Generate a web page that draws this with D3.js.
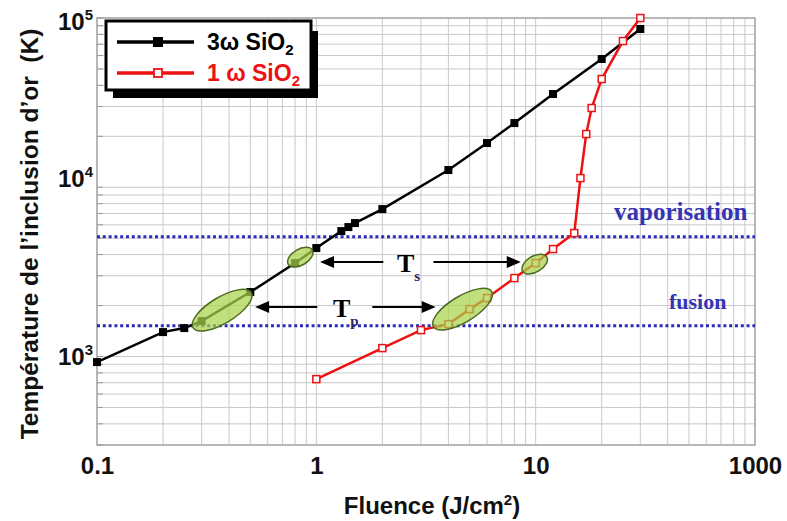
<!DOCTYPE html>
<html><head><meta charset="utf-8">
<script src="https://cdn.jsdelivr.net/npm/d3@7"></script>
<style>body{margin:0;background:#fff}svg{display:block}text{font-family:"Liberation Sans",Arial,sans-serif}</style>
</head><body>
<script>
// ---------- data ----------
const fluence3w = [0.1,0.2,0.25,0.3,0.5,0.8,1,1.3,1.4,1.5,2,4,6,8,12,20,30];
const temp3w    = [927,1394,1472,1619,2403,3564,4373,5508,5818,6143,7430,12640,18250,23950,35560,57240,86100];
const fluence1w = [1,2,3,4,5,6,8,10,12,15,16,17,18,20,25,30];
const temp1w    = [735,1121,1432,1553,1905,2215,2906,3564,4313,5361,11330,20630,29390,43600,73100,100000];
const seriesNames = ["3ω SiO", "1 ω SiO"];
const xTickValues = [0.1,1,10,100];
const xTickLabels = ["0.1","1","10","1000"];
const yTickValues = [1e3,1e4,1e5];
const yTickExponents = ["3","4","5"];
const thresholdNames = ["vaporisation","fusion"];
const thresholdTemps = [5100,1520];
// highlighted zones [fluence, temperature]
const zoneF = [0.372,0.845,4.64,9.9];
const zoneT = [1879,3864,1905,3516];
const zoneBig = [true,false,true,false];
// arrows: label, temperature, left arrow (from,to), right arrow (from,to)
const arrowLabels = ["T","T"];
const arrowSubs = ["s","p"];
const arrowTemps = [3614,1959];
const arrowLeft = [[2.02,1.04],[1.01,0.526]];
const arrowRight = [[3.42,8.55],[1.8,3.5]];

// ---------- chart ----------
const W=787,H=521;
const svg=d3.select("body").append("svg").attr("width",W).attr("height",H);
const x=d3.scaleLog().domain([0.1,100]).range([97,755]);
const y=d3.scaleLog().domain([300,1e5]).range([445,18]);

// grid
const grid=svg.append("g");
grid.selectAll(".vx").data(x.ticks()).join("line")
  .attr("x1",d=>x(d)).attr("x2",d=>x(d)).attr("y1",y.range()[1]).attr("y2",y.range()[0])
  .attr("stroke","#c9c9c9").attr("stroke-width",1);
grid.selectAll(".hy").data(y.ticks()).join("line")
  .attr("y1",d=>y(d)).attr("y2",d=>y(d)).attr("x1",x.range()[0]).attr("x2",x.range()[1])
  .attr("stroke","#c9c9c9").attr("stroke-width",1);
// frame
svg.append("rect").attr("x",x.range()[0]).attr("y",y.range()[1])
  .attr("width",x.range()[1]-x.range()[0]).attr("height",y.range()[0]-y.range()[1])
  .attr("fill","none").attr("stroke","#a8a8a8").attr("stroke-width",1.5);
// inner minor ticks on left
svg.append("g").selectAll("line").data(y.ticks()).join("line")
  .attr("x1",x.range()[0]).attr("x2",x.range()[0]+6).attr("y1",d=>y(d)).attr("y2",d=>y(d))
  .attr("stroke","#999");

// threshold dotted lines
svg.append("g").selectAll("line").data(thresholdTemps).join("line")
  .attr("x1",x.range()[0]).attr("x2",x.range()[1]).attr("y1",d=>y(d)).attr("y2",d=>y(d))
  .attr("stroke","#2b2bb8").attr("stroke-width",3).attr("stroke-dasharray","3,2.8");
svg.append("g").selectAll("text").data(thresholdNames).join("text")
  .attr("x",(d,i)=>i===0?614:669).attr("y",(d,i)=>y(thresholdTemps[i])-17)
  .style("font-family","'Liberation Serif','Times New Roman',serif")
  .attr("font-weight","bold").attr("font-size",(d,i)=>i===0?25:22).attr("fill","#3434b4").text(d=>d);

// series
const line=d3.line().x(d=>x(d[0])).y(d=>y(d[1]));
const s3=fluence3w.map((f,i)=>[f,temp3w[i]]);
const s1=fluence1w.map((f,i)=>[f,temp1w[i]]);
svg.append("path").datum(s3).attr("d",line).attr("fill","none").attr("stroke","#000").attr("stroke-width",2.5);
svg.append("g").selectAll("rect").data(s3).join("rect")
  .attr("x",d=>x(d[0])-4).attr("y",d=>y(d[1])-4).attr("width",8).attr("height",8).attr("fill","#000");
svg.append("path").datum(s1).attr("d",line).attr("fill","none").attr("stroke","#ee1111").attr("stroke-width",2.5);
svg.append("g").selectAll("rect").data(s1).join("rect")
  .attr("x",d=>x(d[0])-3.5).attr("y",d=>y(d[1])-3.5).attr("width",7).attr("height",7)
  .attr("fill","#fff").attr("stroke","#ee1111").attr("stroke-width",1.5);

// highlighted zones
svg.append("g").selectAll("ellipse").data(zoneF).join("ellipse")
  .attr("transform",(d,i)=>`translate(${x(d)},${y(zoneT[i])}) rotate(-31)`)
  .attr("rx",(d,i)=>zoneBig[i]?34:14).attr("ry",(d,i)=>zoneBig[i]?13:8)
  .attr("fill","#a9d24a").attr("fill-opacity",0.72).attr("stroke","#4c6a22").attr("stroke-width",1.5);

// arrows
const ag=svg.append("g");
function arrow(f0,f1,t){
  const x0=x(f0),x1=x(f1),yy=y(t),dir=Math.sign(x1-x0);
  ag.append("line").attr("x1",x0).attr("x2",x1-dir*12).attr("y1",yy).attr("y2",yy).attr("stroke","#000").attr("stroke-width",2);
  ag.append("path").attr("d",`M${x1},${yy}L${x1-dir*14},${yy-6}L${x1-dir*14},${yy+6}Z`).attr("fill","#000");
}
arrowTemps.forEach((t,i)=>{arrow(arrowLeft[i][0],arrowLeft[i][1],t);arrow(arrowRight[i][0],arrowRight[i][1],t);});
const labelX=[397,333];
arrowTemps.forEach((t,i)=>{
  const tx=ag.append("text").attr("x",labelX[i]).attr("y",y(t)+10)
    .style("font-family","'Liberation Serif','Times New Roman',serif").attr("font-weight","bold").attr("font-size",26).attr("fill","#000");
  tx.append("tspan").text(arrowLabels[i]);
  tx.append("tspan").attr("dy",9).attr("font-size",15).attr("fill","#2a2a60").text(arrowSubs[i]);
});

// axes
const xa=svg.append("g").attr("transform",`translate(0,${y.range()[0]})`)
  .call(d3.axisBottom(x).tickValues(xTickValues).tickSize(0).tickPadding(12).tickFormat((d,i)=>xTickLabels[i]));
xa.select(".domain").remove();
xa.selectAll("text").attr("font-size",24).attr("font-weight","bold").attr("fill","#111").attr("font-family",null);
const ya=svg.append("g").attr("transform",`translate(${x.range()[0]},0)`)
  .call(d3.axisLeft(y).tickValues(yTickValues).tickSize(0).tickPadding(4).tickFormat(()=>""));
ya.select(".domain").remove();
const yOff={1000:0,10000:-9,100000:3};
ya.selectAll("text").each(function(d,i){
  const t=d3.select(this).attr("font-size",24).attr("font-weight","bold").attr("fill","#111").attr("font-family",null)
    .attr("dy",null).attr("y",8+yOff[d]);
  t.append("tspan").text("10");
  t.append("tspan").attr("dy",-10).attr("font-size",15).text(yTickExponents[i]);
});

// axis titles
const xt=svg.append("text").attr("x",432).attr("y",514).attr("text-anchor","middle")
  .attr("font-size",24).attr("font-weight","bold").attr("fill","#111");
xt.append("tspan").text("Fluence (J/cm");
xt.append("tspan").attr("dy",-9).attr("font-size",15).text("2");
xt.append("tspan").attr("dy",9).text(")");
svg.append("text").attr("transform","translate(38,234) rotate(-90)").attr("text-anchor","middle")
  .style("white-space","pre").attr("font-size",24.5).attr("font-weight","bold").attr("fill","#111")
  .text("Température de l’inclusion d’or  (K)");

// legend
const lg=svg.append("g");
lg.append("path").attr("d","M113,31 L318,31 L318,98 L113,98 Z").attr("fill","#000");
lg.append("rect").attr("x",106).attr("y",21).attr("width",205).attr("height",69)
  .attr("fill","#fff").attr("stroke","#000").attr("stroke-width",3);
const legY=[42,73], legC=["#000","#ee1111"];
seriesNames.forEach((n,i)=>{
  lg.append("line").attr("x1",117).attr("x2",194).attr("y1",legY[i]).attr("y2",legY[i]).attr("stroke",legC[i]).attr("stroke-width",3.5);
  if(i===0) lg.append("rect").attr("x",153).attr("y",legY[i]-5).attr("width",10).attr("height",10).attr("fill","#000");
  else lg.append("rect").attr("x",154).attr("y",legY[i]-4).attr("width",8).attr("height",8).attr("fill","#fff").attr("stroke","#ee1111").attr("stroke-width",1.8);
  const t=lg.append("text").attr("x",207).attr("y",legY[i]+8).attr("font-size",23).attr("font-weight","bold").attr("fill",legC[i]);
  t.append("tspan").text(n);
  t.append("tspan").attr("dy",5).attr("font-size",15).text("2");
});
</script>
</body></html>
